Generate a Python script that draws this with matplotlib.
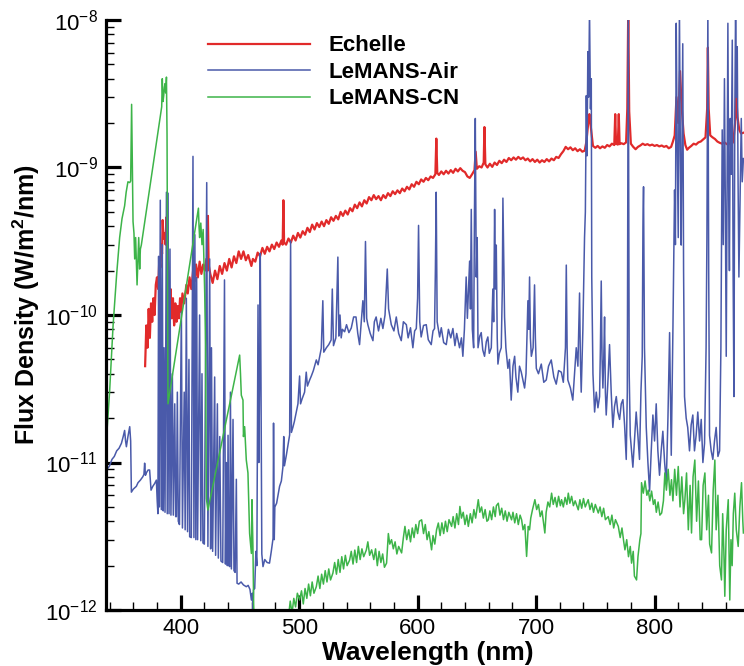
import numpy as np
import matplotlib
matplotlib.use('Agg')
import matplotlib.pyplot as plt
from matplotlib.ticker import FixedLocator, LogLocator, NullFormatter, MultipleLocator

plt.rcParams['font.family'] = ['Liberation Sans', 'DejaVu Sans']
plt.rcParams['mathtext.default'] = 'regular'

# flux values in units of 1e-12 W/m^2/nm
SCALE = 1e-12

echelle = [
    (370, 45), (371, 85), (372, 60), (373, 110), (374, 70), (375, 120), (376, 90), (377, 130),
    (378, 100), (379, 160), (380, 180), (381, 150), (382, 240), (383, 210), (383.7, 300),
    (384.3, 260), (384.8, 440), (385.5, 330), (386.5, 360), (387.3, 300), (388, 460),
    (388.7, 330), (389.5, 200), (390.5, 120), (391.5, 150), (392.5, 95), (393.5, 130),
    (394.5, 85), (395.5, 120), (396.5, 90), (397.5, 115), (398.5, 95), (399.5, 130),
    (400.5, 105), (401.5, 140), (403, 120), (404.8, 160), (406, 140), (407.5, 180), (409, 150),
    (410.5, 200), (412, 170), (413, 220), (414.5, 180), (416, 230), (417.5, 190), (419, 220),
    (420.5, 200), (421.7, 240), (422.5, 200), (423, 470), (423.6, 220), (425, 190), (427, 165),
    (429, 200), (431, 175), (433, 215), (435, 190), (437, 225), (439, 200), (441, 240),
    (443, 210), (445, 250), (447, 225), (449, 270), (451, 240), (453, 270), (455, 235),
    (457, 255), (459.7, 215), (461, 240), (463, 230), (465, 265), (467, 250), (469, 285),
    (471, 260), (473, 290), (475, 270), (477, 300), (479, 280), (481, 310), (483, 290),
    (485, 320), (486.1, 300), (486.7, 600), (487.3, 310), (489, 300), (491, 330), (493, 310),
    (495, 345), (497, 320), (499, 360), (501, 335), (503, 370), (505, 350), (507, 390),
    (509, 365), (511, 410), (513, 380), (515, 420), (517, 395), (519, 430), (521, 400),
    (523, 440), (525, 415), (527, 460), (529, 435), (531, 470), (533, 445), (535, 500),
    (537, 470), (539, 510), (541, 480), (543, 530), (545, 505), (547, 560), (549, 530),
    (551, 580), (553, 545), (555, 600), (557, 570), (559, 630), (561, 600), (563, 650),
    (565, 610), (567, 640), (569, 600), (571, 650), (573, 620), (575, 670), (577, 640),
    (579, 690), (581, 660), (583, 700), (585, 670), (587, 720), (589, 690), (591, 740),
    (593, 710), (595, 770), (597, 740), (599, 800), (601, 770), (603, 830), (605, 800),
    (607, 850), (609, 820), (611, 870), (613, 850), (615, 900), (615.8, 1570), (616.6, 920),
    (618, 890), (620, 940), (622, 900), (624, 950), (626, 910), (628, 960), (630, 920),
    (632, 980), (634, 940), (636, 990), (638, 950), (640, 930), (642, 870), (644, 850),
    (646, 900), (648, 960), (649, 1280), (650, 980), (652, 1020), (654, 1000), (655.8, 1080),
    (656.4, 1880), (657.2, 1050), (659, 1000), (661, 1060), (663, 1010), (665, 1080),
    (667, 1040), (669, 1110), (671, 1070), (673, 1130), (675, 1090), (677, 1160), (679, 1120),
    (681, 1170), (683, 1130), (685, 1180), (687, 1140), (689, 1170), (691, 1120), (693, 1150),
    (695, 1100), (697, 1140), (699, 1090), (701, 1130), (703, 1080), (705, 1120), (707, 1090),
    (709, 1140), (711, 1100), (713, 1150), (715, 1120), (717, 1180), (719, 1160), (721, 1230),
    (723, 1290), (725, 1380), (727, 1330), (729, 1370), (731, 1310), (733, 1350), (735, 1290),
    (737, 1330), (739, 1280), (741, 1300), (742.5, 1500), (744, 2000), (745, 2300),
    (746.5, 1800), (748, 1400), (750, 1360), (752, 1400), (754, 1350), (756, 1390),
    (758, 1360), (760, 1420), (762, 1390), (764, 1450), (766, 1420), (766.8, 2300),
    (767.5, 1450), (769, 1430), (769.8, 2300), (770.5, 1440), (772, 1460), (774, 1440),
    (776, 1480), (777, 2500), (777.8, 12000), (778.6, 2400), (780, 1450), (782, 1380),
    (784, 1330), (786, 1380), (788, 1410), (790, 1450), (792, 1420), (794, 1440), (796, 1410),
    (798, 1430), (800, 1400), (802, 1420), (804, 1390), (806, 1410), (808, 1380), (810, 1400),
    (812, 1350), (814, 1380), (815.5, 1500), (817, 1650), (818.5, 3000), (820, 2000),
    (821.5, 4500), (823, 2500), (824.5, 1700), (826, 1420), (827.5, 1320), (829, 1360),
    (831, 1400), (833, 1450), (835, 1430), (837, 1480), (839, 1500), (841, 1550), (843, 1600),
    (844.4, 2500), (845, 6500), (845.7, 2500), (847, 1650), (849, 1600), (851, 1560),
    (853, 1500), (855, 1470), (857, 1450), (859, 1480), (861, 1440), (863, 1460), (865, 1430),
    (866.5, 1500), (868, 2000), (869, 3000), (870, 2200), (871.5, 1800), (873, 1700),
    (875, 1720),
]

lemans_air = [
    (336.5, 8), (338, 9), (340, 9.5), (342, 10.5), (344, 11), (346, 12), (348, 12.5),
    (350, 13.5), (351.5, 15), (352.7, 16.5), (353.5, 14), (354.2, 12.8), (355.5, 15),
    (357, 17.5), (357.8, 14), (358.4, 6.3), (360, 6.6), (362.6, 6.9), (364, 7.3), (366, 7.6),
    (368, 8), (369, 8.3), (369.6, 9.9), (370.3, 8.2), (371, 8.5), (372.5, 8.9), (373.8, 8.9),
    (375, 6.5), (376.5, 6.9), (378, 7.2), (379.5, 7.6), (380.2, 5.5), (380.8, 4.5),
    (381.4, 250), (382, 5), (382.8, 600), (383.7, 4.8), (384.5, 300), (385.3, 4.7), (386, 60),
    (386.8, 4.6), (388, 680), (388.7, 4.5), (389.4, 670), (390.2, 4.5), (391, 280),
    (391.8, 4.4), (393, 40), (393.8, 4.4), (395, 25), (395.8, 4.3), (396.4, 4.3), (397.2, 30),
    (398, 4.0), (399, 3.8), (400.6, 105), (401.5, 3.6), (403, 30), (403.8, 3.5), (404.8, 130),
    (405.8, 3.4), (407, 50), (407.6, 3.14), (409, 3.1), (410.4, 1190), (411.2, 3.1),
    (412, 350), (412.8, 3.0), (413.5, 180), (414.3, 3.0), (416, 100), (417, 2.95), (418, 40),
    (418.8, 2.85), (420, 2.8), (422, 790), (423, 2.7), (424.5, 240), (425.3, 2.6), (426, 60),
    (427, 2.5), (428.7, 38), (429.5, 2.35), (431, 25), (431.8, 2.25), (433, 15), (434, 2.15),
    (435.5, 2.1), (437, 173), (437.8, 2.05), (438.6, 10), (439.4, 2.0), (440, 15.3),
    (440.7, 2.0), (441.4, 1.97), (442, 30), (442.8, 1.9), (444.2, 19.6), (445, 1.85),
    (446, 1.8), (447, 7.7), (447.6, 1.52), (449, 1.5), (451, 1.55), (453, 1.48),
    (455.4, 1.44), (457, 1.47), (458.5, 1.38), (459.7, 1.17), (460.5, 1.3), (461, 1.0),
    (461.5, 1.37), (462.5, 1.4), (463.5, 2.5), (464.3, 2.0), (465.3, 117), (466, 10),
    (466.7, 45), (467.2, 262), (467.8, 36), (468.5, 2.4), (469.5, 1.97), (471, 2.2),
    (473, 2.1), (475, 2.08), (476.5, 2.5), (478, 3.07), (478.4, 18.5), (479, 3.0),
    (479.5, 5.0), (481, 5.3), (483.5, 6.9), (485, 7.5), (486.3, 9.3), (487, 15), (487.6, 9.5),
    (489.2, 11.2), (490.5, 13), (492, 15.4), (492.8, 317), (493.5, 16), (494.8, 17.4),
    (496, 19), (497.6, 22), (499, 25), (500.4, 38.6), (501.2, 25), (502.5, 27), (504.6, 30),
    (506, 41), (507, 33), (508.9, 36.3), (510.3, 38.6), (512, 42), (514.5, 49.6), (516, 46),
    (518.7, 59.5), (520, 125), (520.8, 56), (523, 60), (525, 63), (527, 67.7), (528, 150),
    (529, 62), (531, 70), (532.7, 247), (533.5, 72), (534.5, 100), (535.5, 70), (536.5, 80),
    (538.4, 77), (540, 86), (542, 76), (544, 81.6), (546, 97), (548, 97), (549.5, 75),
    (551, 63), (552.5, 90), (553.8, 125), (555, 90), (556, 315), (557, 95), (558, 86),
    (560, 75), (562.3, 67), (563.5, 90), (565, 97), (567, 78), (569, 95), (570.7, 81),
    (572.5, 100), (574.4, 205), (575.5, 110), (577.8, 86), (580, 78), (582, 97), (584, 75),
    (586.2, 67), (588, 90), (590.5, 86), (592, 70), (594, 82), (596, 60), (597.5, 78),
    (598.9, 81), (600, 130), (600.8, 405), (601.8, 90), (603, 71), (605, 85), (607.3, 86),
    (609, 68), (611.5, 63), (613, 78), (614.3, 81), (615, 200), (615.7, 680), (616.5, 90),
    (618.6, 71), (620, 82), (622, 65), (624.2, 63), (626, 80), (628, 70), (629.8, 81),
    (631.5, 62), (633, 75), (635.4, 60), (637, 70), (638.2, 52.5), (639.5, 80), (641, 181),
    (642, 95), (643.9, 232), (644.6, 110), (645.3, 520), (646.2, 80), (647.3, 60), (648, 500),
    (648.7, 2150), (649.5, 181), (650.3, 335), (651, 60), (652.5, 72), (653.7, 76), (655, 58),
    (656.5, 52.5), (658, 66), (659.3, 71), (660.5, 55), (662.2, 60), (663.5, 150), (664.2, 90),
    (665, 520), (665.7, 150), (666.4, 298), (667.2, 70), (667.8, 46.5), (669, 55),
    (670.6, 60), (671.5, 150), (672, 620), (672.8, 200), (673.4, 97), (674.5, 60),
    (676.2, 43.5), (677.5, 50), (679, 26.5), (680.5, 45), (681.9, 52.5), (683, 38),
    (684.6, 30), (686, 45), (687.5, 41), (689, 36), (690.3, 32), (691.5, 40), (693.1, 125),
    (693.8, 80), (694.5, 181), (695.2, 70), (696, 52.5), (697.5, 60), (698.7, 160),
    (699.4, 70), (700.2, 43.5), (702, 40), (704.4, 46.5), (706.5, 35), (708.6, 36.3),
    (710.5, 45), (712.8, 49.6), (715, 38), (717, 34), (719, 42), (721.3, 41), (723, 35),
    (724.8, 60), (725.5, 218), (726.2, 60), (726.8, 36.3), (729, 32), (731, 26.5),
    (732.5, 40), (733.9, 60), (735.3, 45), (736.7, 141), (737.4, 50), (738.1, 30),
    (739.5, 80), (740.9, 335), (741.6, 500), (742.4, 3070), (743, 1200), (743.7, 6100),
    (744.4, 3000), (745.1, 12000), (745.9, 2500), (746.6, 4000), (747, 181), (748, 40),
    (749.4, 22), (750.8, 30), (752.2, 23.5), (753.6, 28), (754.3, 60), (755, 170),
    (755.7, 50), (756.4, 32), (757.1, 50), (757.8, 97), (758.5, 30), (759.2, 21),
    (760.6, 35), (762, 63), (763.4, 30), (764.8, 17.3), (766.2, 24), (767.7, 28), (769, 22),
    (770.5, 19.6), (771.9, 25), (773.3, 26.7), (774.7, 18), (776.1, 10.5), (777, 30),
    (777.8, 12000), (778.6, 40), (779.5, 15.3), (780.6, 12), (781.7, 9.3), (783, 14),
    (784.5, 22), (786, 15), (787.3, 10.5), (788.5, 30), (789.6, 52.5), (790.2, 400),
    (790.7, 740), (791.5, 60), (793, 17.3), (794.4, 10), (795.8, 6.4), (797.2, 12),
    (798.6, 21), (800, 14), (801.4, 25), (802.8, 12), (804.2, 8.2), (805.6, 12), (807, 16.3),
    (808.5, 10), (809.9, 7.3), (811.3, 20), (812.7, 76), (813.4, 30), (814.1, 11.2),
    (815.5, 80), (816.9, 704), (817.6, 300), (818.3, 9500), (819.1, 1500), (820, 335),
    (821, 12000), (821.8, 1200), (822.5, 298), (823.2, 1500), (823.8, 6900), (824.5, 200),
    (825.3, 28), (826.7, 20), (828, 17.3), (829.5, 12), (830.9, 18), (832.3, 21),
    (833.7, 12), (835.1, 15.3), (836.5, 22), (838, 14), (839.4, 19.6), (840.8, 10),
    (842.2, 13.5), (843.5, 60), (844.2, 335), (845, 12000), (845.7, 200), (846.4, 15.3),
    (847.8, 12), (849.2, 10.5), (850.6, 14), (852, 17.3), (853.5, 11), (854.9, 12), (856, 60),
    (857.1, 1800), (858, 300), (859, 4000), (859.8, 500), (860.5, 52.5), (861.2, 800),
    (861.9, 9500), (862.6, 600), (863.2, 200), (863.9, 2150), (864.7, 900), (865.6, 7300),
    (866.3, 200), (867, 28), (867.7, 2000), (868.4, 12000), (869.1, 3000), (869.8, 6600),
    (870.5, 800), (871.2, 181), (872.2, 600), (873.2, 2150), (874, 800), (875, 1150),
]

lemans_cn = [
    (337, 13), (340, 30), (343, 86), (346, 190), (348.5, 335), (350.5, 450), (352.7, 550),
    (354, 680), (355.5, 800), (357, 790), (357.8, 810), (358.6, 2680), (359.2, 1000),
    (359.8, 430), (360.6, 358), (361.2, 240), (362, 335), (362.6, 236), (363.2, 160),
    (364, 250), (364.6, 335), (365.4, 205), (366, 280), (366.8, 298), (384, 2580),
    (384.5, 4000), (385.1, 2800), (385.7, 3070), (386.3, 3500), (386.8, 3700), (387.4, 3200),
    (388, 4100), (388.5, 1680), (389.3, 25), (415, 530), (415.5, 400), (416, 335), (417, 420),
    (418, 300), (419, 380), (420.3, 141), (421, 63), (421.7, 5.7), (423, 4.76), (449.8, 53.5),
    (450.5, 40), (451.2, 28.6), (452.6, 26.5), (453, 15), (454, 17.5), (455.4, 10.4),
    (456.8, 8.5), (458.2, 3.3), (459.7, 2.42), (460.2, 5.6), (461, 2.7), (461.6, 1.1),
    (463, 0.5), (488, 0.6), (489.2, 1.0), (491, 0.9), (492.5, 1.15), (494, 0.95),
    (495.5, 1.2), (497, 1.05), (498.5, 1.3), (500.4, 1.17), (502, 1.35), (503.5, 1.1),
    (505, 1.4), (506.5, 1.2), (508, 1.5), (509.5, 1.25), (511, 1.55), (512.5, 1.3),
    (514.5, 1.44), (516, 1.7), (517.5, 1.4), (519, 1.75), (520.5, 1.5), (522, 1.85),
    (523.5, 1.55), (525, 1.9), (526.5, 1.6), (528.5, 1.78), (530, 2.1), (531.5, 1.75),
    (533, 2.2), (534.5, 1.8), (536, 2.3), (537.5, 1.9), (539, 2.35), (540.5, 2.0),
    (542.6, 2.18), (544, 2.5), (545.5, 2.05), (547, 2.55), (548.5, 2.1), (550, 2.7),
    (551.5, 2.2), (553, 2.6), (554.5, 2.3), (556.7, 2.55), (558, 2.9), (559.5, 2.35),
    (561.2, 2.56), (563, 2.2), (564.5, 2.6), (566, 2.0), (567.5, 2.5), (569, 2.1),
    (570.5, 2.4), (572, 1.95), (573.8, 2.08), (575.3, 3.3), (576.5, 2.8), (578, 3.0),
    (579.5, 2.6), (581, 2.9), (582.5, 2.4), (584, 2.7), (586.5, 2.44), (588, 3.1),
    (589.3, 3.69), (590.8, 3.0), (592.5, 3.5), (594, 2.9), (595.5, 3.6), (597, 3.1),
    (598.5, 3.8), (600, 3.3), (601.5, 4.0), (603.4, 4.09), (605, 3.3), (606.5, 3.8),
    (608, 3.0), (609.5, 3.4), (611.8, 2.56), (613, 3.2), (614.5, 2.8), (616, 3.5),
    (617.5, 3.89), (619, 3.2), (620.5, 3.9), (622, 3.3), (623.5, 4.0), (625, 3.4),
    (626.5, 4.1), (628.7, 3.69), (630, 4.3), (631.5, 3.6), (633, 4.5), (634.5, 3.8),
    (635.7, 5.04), (637, 4.2), (638.5, 4.6), (640, 3.8), (641.5, 4.4), (642.8, 3.69),
    (644.5, 4.5), (646, 3.9), (647.5, 4.8), (649, 4.2), (651.2, 5.6), (652.5, 4.6),
    (654, 5.0), (655.5, 4.2), (657, 4.8), (658.5, 4.0), (659.7, 4.09), (661, 4.7),
    (662.5, 4.1), (664, 5.0), (665.5, 4.3), (666.5, 5.1), (668.1, 5.3), (669.5, 4.4),
    (671, 4.9), (672.5, 4.1), (674, 4.7), (675.5, 4.0), (677, 4.6), (679.3, 4.09),
    (680.5, 4.6), (682, 3.9), (683.5, 4.5), (685, 3.8), (686.5, 4.4), (687.8, 4.09),
    (689, 3.5), (690.5, 3.8), (692, 2.31), (693.4, 3.69), (694.5, 3.5), (695.5, 4.2),
    (697, 4.8), (699, 5.6), (700.5, 4.8), (702, 5.2), (703.5, 4.3), (705, 4.7),
    (707.4, 3.33), (708.5, 4.6), (710, 5.4), (711.5, 5.0), (713.1, 6.2), (714.5, 5.2),
    (716, 5.8), (717.5, 5.0), (719, 5.9), (720.5, 5.1), (721.5, 5.6), (723, 5.0),
    (724.5, 5.8), (726, 5.2), (727.2, 6.2), (728.5, 5.3), (730, 5.9), (731.5, 5.1),
    (733, 5.5), (735.6, 4.78), (737, 5.6), (738.5, 4.9), (740, 5.7), (741.5, 5.0),
    (744, 5.6), (745.5, 4.8), (747, 5.3), (748.5, 4.6), (750, 5.2), (752.5, 4.55),
    (754, 5.0), (755.5, 4.3), (757, 4.9), (758.5, 4.1), (760.9, 4.3), (762.5, 3.8),
    (764, 4.4), (765.5, 3.6), (767, 4.1), (769.4, 3.69), (771, 3.1), (772.5, 3.6),
    (774, 2.9), (775, 2.56), (776.5, 3.0), (778, 2.3), (779.5, 2.7), (780.6, 2.08),
    (782, 2.5), (783, 1.7), (784.8, 1.6), (786, 2.3), (787.6, 3.0), (788.5, 3.3), (789, 7.3),
    (790.5, 6.2), (792, 7.5), (793.5, 6.0), (794.7, 6.5), (796, 5.5), (797.5, 6.4),
    (799, 5.2), (800.3, 5.6), (801.5, 4.6), (803, 5.4), (804.5, 4.4), (806, 4.55),
    (807.5, 5.5), (808.7, 8.5), (810, 6.5), (811.5, 9.0), (813, 6.0), (814.3, 7.65),
    (815.5, 5.5), (817, 9.0), (818.5, 6.0), (820, 9.4), (821.5, 5.0), (823, 8.0),
    (824.5, 4.5), (825.6, 5.6), (827, 8.5), (828.5, 3.5), (830, 7.0), (831.2, 3.33),
    (832.5, 8.0), (834, 10.4), (835.5, 4.0), (837, 7.5), (838.5, 3.0), (839.7, 3.0),
    (841, 7.0), (842.5, 8.5), (844, 3.5), (845.5, 6.0), (846.5, 2.8), (848.1, 2.44),
    (849.5, 6.5), (850.9, 10.4), (852, 3.5), (853.5, 6.0), (855, 2.0), (856.5, 1.6),
    (857.5, 4.5), (858.5, 2.5), (859.3, 1.24), (860.5, 3.5), (862.2, 5.6), (863.5, 1.17),
    (864.5, 3.0), (865.5, 2.0), (866.5, 4.5), (867.7, 6.2), (869, 3.5), (870.6, 2.7),
    (872, 5.0), (873.4, 7.3), (874.5, 4.0), (875, 3.33),
]

series = [
    ('Echelle', echelle, '#e12a2a', 1.6),
    ('LeMANS-Air', lemans_air, '#4a5aaa', 1.1),
    ('LeMANS-CN', lemans_cn, '#3db449', 1.1),
]

fig = plt.figure(figsize=(7.44, 6.66), dpi=100)
ax = fig.add_axes([0.1425, 0.084, 0.8575, 0.886])

for name, pts, col, lw in series:
    wl, fx = np.array(pts).T
    ax.plot(wl, fx * SCALE, color=col, lw=lw, label=name)

ax.set_yscale('log')
ax.set_xlim(337, 875.5)
ax.set_ylim(1e-12, 1e-8)

ax.xaxis.set_major_locator(FixedLocator([400, 500, 600, 700, 800]))
ax.xaxis.set_minor_locator(MultipleLocator(20))
ax.yaxis.set_major_locator(LogLocator(base=10, numticks=10))
ax.yaxis.set_minor_locator(LogLocator(base=10, subs=np.arange(2, 10), numticks=10))
ax.yaxis.set_minor_formatter(NullFormatter())

for s in ['top', 'right']:
    ax.spines[s].set_visible(False)
for s in ['left', 'bottom']:
    ax.spines[s].set_linewidth(2.3)

ax.tick_params(which='major', direction='in', length=11, width=2.3, labelsize=16, pad=6)
ax.tick_params(which='minor', direction='in', length=6, width=1.0)

ax.set_xlabel('Wavelength (nm)', fontsize=19, fontweight='bold', va='top')
ax.set_ylabel('Flux Density (W/m$^2$/nm)', fontsize=18, fontweight='bold')
ax.xaxis.set_label_coords(0.505, -0.052)
ax.yaxis.set_label_coords(-0.100, 0.517)

leg = ax.legend(loc='upper left', bbox_to_anchor=(0.2796, 0.947), bbox_transform=fig.transFigure,
                frameon=False, prop={'weight': 'bold', 'size': 16}, handlelength=4.6,
                handletextpad=0.8, labelspacing=0.25, borderpad=0, borderaxespad=0)

fig.savefig('out.png', dpi=100)
